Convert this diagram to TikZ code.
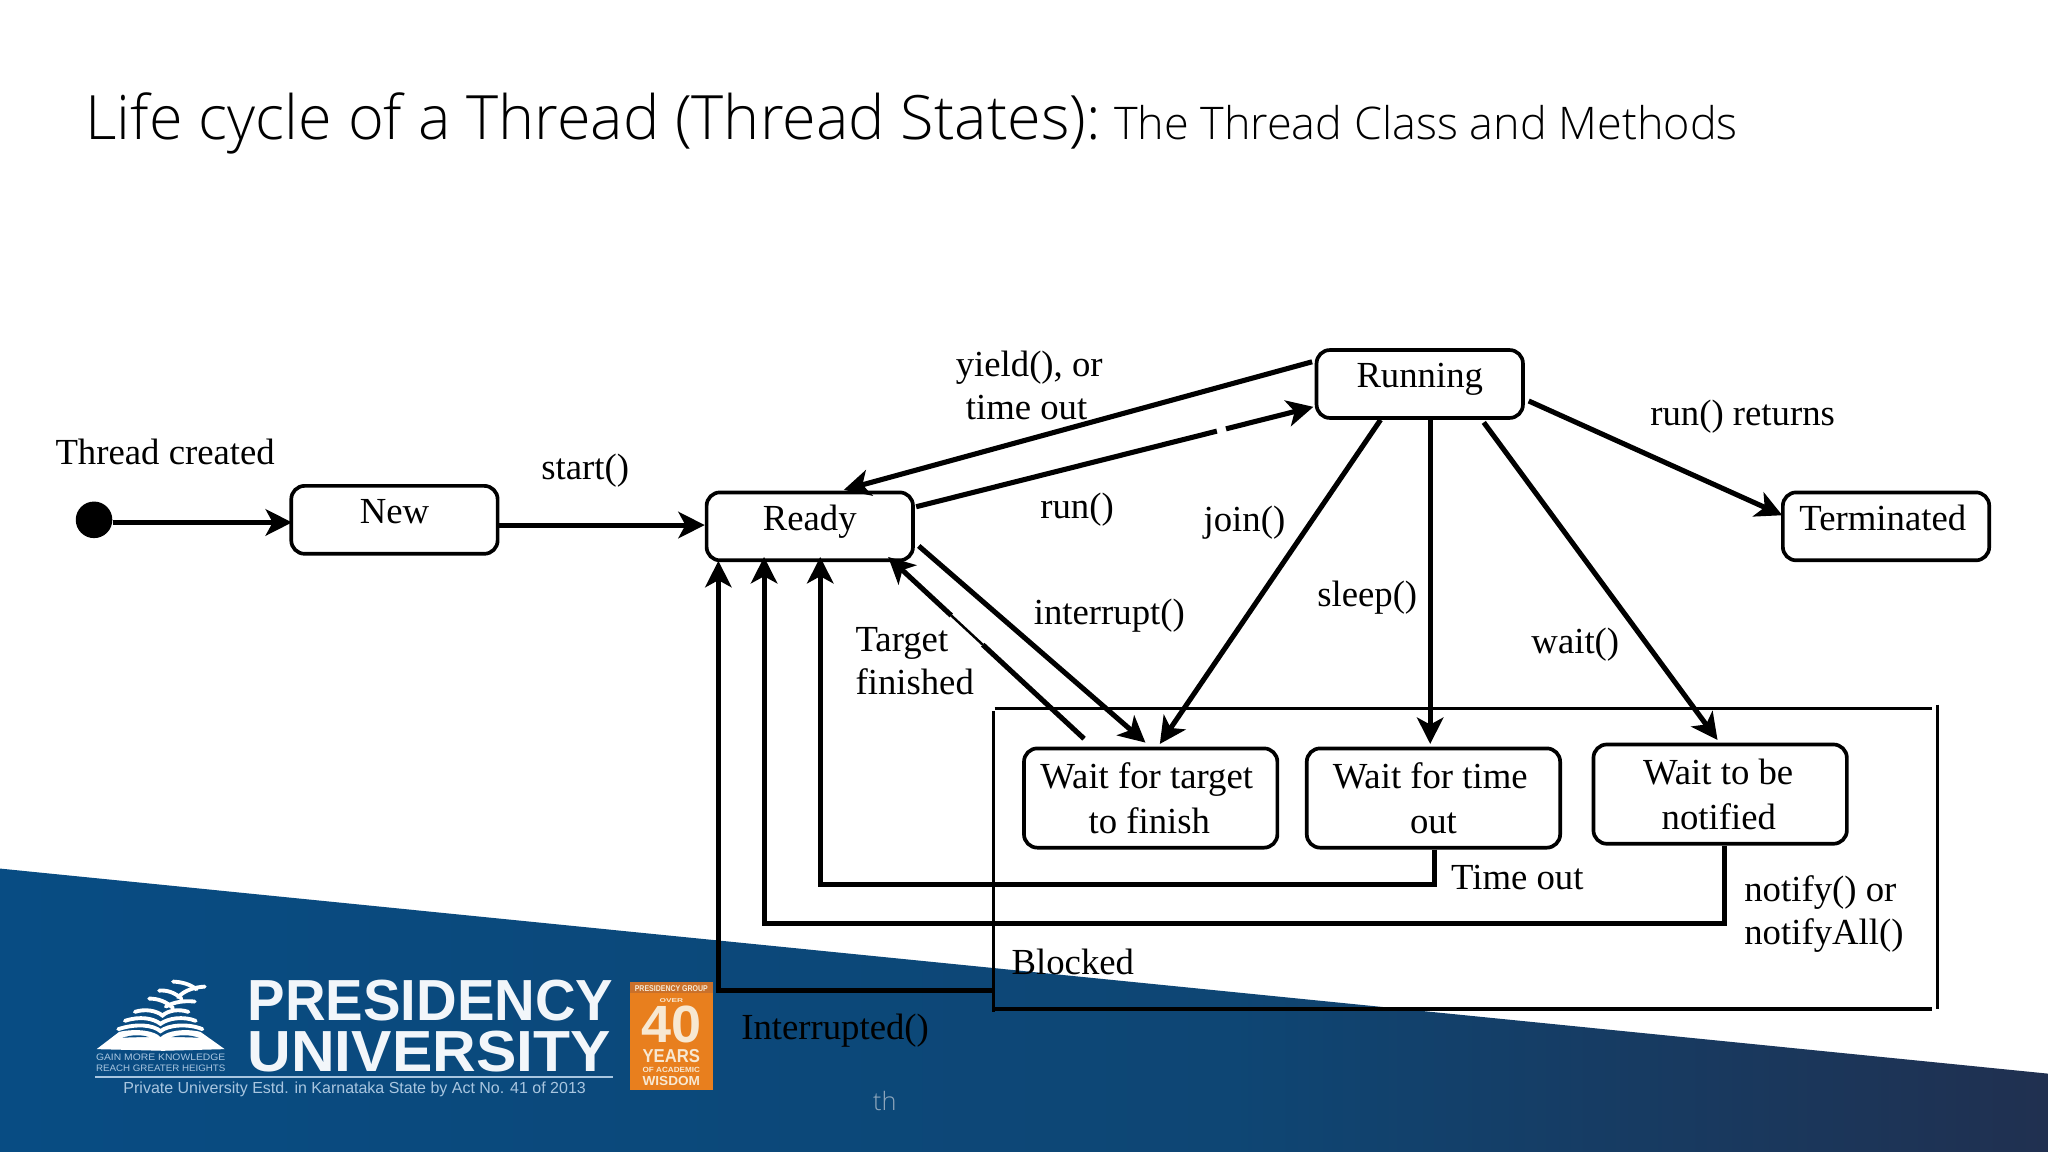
\documentclass[tikz,border=0pt]{standalone}
\usepackage{fontspec}
\usepackage{graphicx}
\usetikzlibrary{arrows.meta,calc}
\setmainfont{Liberation Serif}
\newfontfamily\titlefont{Open Sans Light}
\newfontfamily\logofont{Liberation Sans}
\definecolor{bandL}{HTML}{084C83}
\definecolor{bandM}{HTML}{0E4674}
\definecolor{bandR}{HTML}{203050}
\definecolor{orng}{HTML}{E87F1E}
\definecolor{orngD}{HTML}{C9702A}
\definecolor{cream}{HTML}{F7E8D2}
\definecolor{logoW}{HTML}{F2F6FA}
\definecolor{logoL}{HTML}{A9C6E0}
\definecolor{thgrey}{HTML}{8FA7BC}
\pgfdeclarehorizontalshading{bandshade}{100bp}{color(0bp)=(bandL); color(25bp)=(bandL); color(55bp)=(bandM); color(75bp)=(bandR); color(100bp)=(bandR)}
\newlength\U \setlength\U{0.0130612cm}
\newcommand{\fs}[2]{\fontsize{#1}{#2}\selectfont}
\newcommand{\nudge}[1]{\hspace*{#1\U}}
\tikzset{
  x=0.0130612cm,y=-0.0130612cm,
  state/.style={draw=black,line width=1.05pt,rounded corners=3.8pt,inner sep=0pt,minimum width=158*\U,minimum height=52*\U,font=\fs{10.45}{12.7},align=center,text=black},
  statelow/.style={state,text depth=4.8pt},
  bigstate/.style={state,minimum width=194*\U,minimum height=76*\U},
  lbl/.style={inner sep=0pt,font=\fs{10.45}{12.3},text=black,anchor=base west},
  lblc/.style={inner sep=0pt,font=\fs{10.45}{12.3},text=black,anchor=center,align=center},
  lbll/.style={inner sep=0pt,font=\fs{10.45}{12.3},text=black,anchor=west,align=left},
  conn/.style={draw=black,line width=1.45pt,-{Stealth[length=7.5pt,width=7.5pt,inset=2pt]}},
  plain/.style={draw=black,line width=1.45pt},
  boxline/.style={draw=black,line width=1.1pt},
  logotxt/.style={inner sep=0pt,text=logoW,font=\logofont\bfseries,anchor=north west},
  logosmall/.style={inner sep=0pt,text=logoL,font=\logofont,anchor=north west},
  orngtxt/.style={inner sep=0pt,text=cream,font=\logofont\bfseries,anchor=north},
  wave/.style={draw=white,line width=1.1pt,line cap=round},
}
\begin{document}
\begin{tikzpicture}
\useasboundingbox (0,0) rectangle (1568,882);
% band
\shade[shading=bandshade] (0,665) -- (1568,822) -- (1568,882) -- (0,882) -- cycle;
% title
\node[inner sep=0pt,anchor=base west,text=black] (title) at (65,107) {\titlefont\fs{17.4}{20}Life cycle of a Thread (Thread States):\hspace*{-2\U} {\fs{12.8}{15}The Thread Class and Methods}};
% states
\node[circle,fill=black,inner sep=0pt,minimum size=28*\U] (dot) at (72,398) {};
\node[statelow] (new) at (302,398) {New};
\node[statelow] (ready) at (620,403) {Ready};
\node[statelow] (running) at (1087,294) {Running};
\node[statelow] (terminated) at (1444,403) {Terminated\nudge{5}};
\node[bigstate] (waitT) at (881,611) {Wait for target\nudge{6}\\to finish\nudge{2}};
\node[bigstate] (waitTime) at (1097.5,611) {Wait for time\nudge{5}\\out\nudge{0}};
\node[bigstate] (notified) at (1317,608) {Wait to be\nudge{3}\\notified\nudge{2}};
\node[inner sep=0pt,minimum width=721*\U,minimum height=229*\U] (blocked) at (1121.5,657.5) {};
% blocked frame
\draw[boxline] ($(blocked.north west)+(1,0)$) -- ($(blocked.north east)+(-3,0)$);
\draw[boxline,line width=0.9pt] ($(blocked.north west)+(0,2)$) -- ($(blocked.south west)+(0,2)$);
\draw[boxline,line width=0.9pt] ($(blocked.north east)+(1,-3)$) -- ($(blocked.south east)+(1,0)$);
\draw[boxline] (blocked.south west) -- ($(blocked.south east)+(-3,0)$);
% connectors
\draw[conn] ($(dot.east)+(0,2)$) -- ($(new.west)+(2,2)$);
\draw[conn] ($(new.east)+(0,4)$) -- ($(ready.west)+(0,-1)$);
\draw[conn] ($(running.west)+(-2,-17)$) -- ($(ready.north)+(26,-0.5)$);
\coordinate (runA) at ($(ready.east)+(1,-15)$);
\coordinate (runB) at ($(running.west)+(-1,17.5)$);
\draw[plain] (runA) -- ($(runA)!0.757!(runB)$);
\draw[conn] ($(runA)!0.78!(runB)$) -- (runB);
\draw[conn] ($(ready.east)+(3,15)$) -- ($(waitT.north)+(-4,-3)$);
\coordinate (tfA) at ($(waitT.north)+(-51,-6)$);
\coordinate (tfB) at ($(ready.south)+(60,-4)$);
\draw[plain] (tfA) -- ($(tfA)!0.517!(tfB)$);
\draw[plain,line width=0.7pt] ($(tfA)!0.517!(tfB)$) -- ($(tfA)!0.678!(tfB)$);
\draw[conn] ($(tfA)!0.678!(tfB)$) -- (tfB);
\draw[conn] ($(running.south)+(-30,0)$) -- ($(waitT.north)+(7,-2)$);
\draw[conn] ($(running.south)+(8,0)$) -- ($(waitTime.north)+(-2.5,-2)$);
\draw[conn] ($(running.south)+(49,2)$) -- ($(notified.north)+(-2,-2)$);
\draw[conn] ($(running.east)+(3,13)$) -- ($(terminated.west)+(1,-8.5)$);
\draw[conn] ($(waitTime.south)+(0.5,0)$) -- ++(0,26.5) -| ($(ready.south)+(8,-4)$);
\draw[conn] ($(notified.south)+(3,0)$) -- ++(0,59.5) -| ($(ready.south)+(-35,-4)$);
\draw[conn] ($(blocked.south west)+(0,-14)$) -| ($(ready.south)+(-70,-1)$);
% labels
\node[lbl] (lcreated) at (42,356) {Thread created};
\node[lbl] (lstart) at (414,367) {start()};
\node[lblc] (lyield) at (788,295) {yield(), or\\time out\nudge{4}};
\node[lbl] (lrun) at (796,397) {run()};
\node[lbl] (ljoin) at (921,407) {join()};
\node[lbl] (lsleep) at (1008,464) {sleep()};
\node[lbl] (lreturns) at (1263,326) {run() returns};
\node[lbl] (lwait) at (1172,500) {wait()};
\node[lbl] (linterrupt) at (791,478) {interrupt()};
\node[lbll] (ltarget) at (654.5,506) {Target\\finished};
\node[lbl] (ltimeout) at (1110.5,681) {Time out};
\node[lbll] (lnotify) at (1335,700) {notify() or\\notifyAll()};
\node[lbl] (lblocked) at (774,746) {Blocked};
\node[lbl] (linterrupted) at (567,796) {Interrupted()};
\node[inner sep=0pt,anchor=base west,text=thgrey,font=\titlefont\fs{7.2}{9}] (lth) at (668,850) {th};
% logo: wordmark
\node[logotxt] (pres) at (189,750) {\resizebox{280\U}{31\U}{PRESIDENCY}};
\node[logotxt] (univ) at (189,788.5) {\resizebox{278\U}{31\U}{UNIVERSITY}};
\draw[logoL,line width=0.5pt] (73,824.5) -- (469,824.5);
\node[logosmall] (estd) at (94,828) {\resizebox{354\U}{!}{Private University Estd. in Karnataka State by Act No. 41 of 2013}};
\node[logosmall] (gain) at (73,806.5) {\resizebox{99\U}{5\U}{GAIN MORE KNOWLEDGE}};
\node[logosmall] (reach) at (73,814.5) {\resizebox{99\U}{5\U}{REACH GREATER HEIGHTS}};
% logo: open book and birds
\begin{scope}[shift={(61.25,735)},x=0.00333cm,y=-0.00333cm]
  \fill[white] (50,268) -- (118,216) .. controls (170,205) and (225,212) .. (242,232) .. controls (262,212) and (315,205) .. (362,216) -- (435,268) -- (250,273) -- cycle;
  \fill[bandL] (128,234) .. controls (155,224) and (185,224) .. (207,232) .. controls (185,232) and (155,232) .. cycle;
  \fill[bandL] (275,232) .. controls (300,224) and (330,224) .. (357,234) .. controls (330,232) and (300,232) .. cycle;
  \draw[wave] (115,208) .. controls (170,190) and (220,195) .. (242,214) .. controls (265,195) and (325,190) .. (368,208);
  \draw[wave] (135,183) .. controls (180,168) and (220,175) .. (242,192) .. controls (265,175) and (310,168) .. (348,183);
  \draw[wave] (165,156) .. controls (195,146) and (230,152) .. (248,167) .. controls (265,152) and (295,146) .. (326,156);
  \draw[wave] (208,116) .. controls (235,116) and (260,125) .. (280,145);
  \draw[wave] (258,140) .. controls (285,125) and (315,122) .. (345,125);
  \draw[wave] (238,92) .. controls (262,90) and (285,98) .. (305,116);
  \draw[wave] (295,112) .. controls (315,90) and (345,82) .. (375,80);
  \draw[wave] (280,65) .. controls (305,66) and (330,72) .. (350,88);
\end{scope}
% logo: forty years badge
\node[fill=orng,inner sep=0pt,minimum width=64*\U,minimum height=83*\U] (badge) at (514,793) {};
\fill[orngD] ($(badge.north west)+(1,1)$) rectangle ($(badge.north east)+(-1,9)$);
\node[orngtxt] (bgroup) at ($(badge.north)+(0,3)$) {\resizebox{56\U}{4.5\U}{PRESIDENCY GROUP}};
\node[orngtxt] (bover) at ($(badge.north)+(0,13)$) {\resizebox{18\U}{3\U}{OVER}};
\node[orngtxt] (bforty) at ($(badge.north)+(0,19)$) {\resizebox{46\U}{28\U}{40}};
\node[orngtxt] (byears) at ($(badge.north)+(0,52)$) {\resizebox{44\U}{10\U}{YEARS}};
\node[orngtxt] (bacad) at ($(badge.north)+(0,65.5)$) {\resizebox{44\U}{4\U}{OF ACADEMIC}};
\node[orngtxt] (bwisdom) at ($(badge.north)+(0,72.5)$) {\resizebox{44\U}{7\U}{WISDOM}};
\end{tikzpicture}
\end{document}
